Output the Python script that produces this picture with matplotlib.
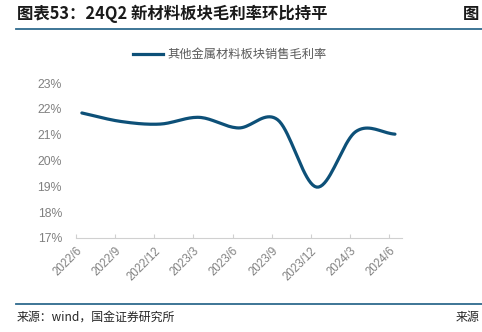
import numpy as np
import matplotlib
matplotlib.use("Agg")
import matplotlib.pyplot as plt
from matplotlib.lines import Line2D

plt.rcParams['font.family'] = ['Noto Sans CJK SC', 'DejaVu Sans']

# data
quarters = ["2022/6", "2022/9", "2022/12", "2023/3", "2023/6",
            "2023/9", "2023/12", "2024/3", "2024/6"]
margin = [21.84, 21.51, 21.41, 21.67, 21.26, 21.58, 18.97, 21.12, 21.02]
yticks = [17, 18, 19, 20, 21, 22, 23]

title = "图表53：24Q2 新材料板块毛利率环比持平"
series_name = "其他金属材料板块销售毛利率"
source = "来源：wind，国金证券研究所"

LINE = "#0d5078"
RULE = "#2e6a8e"
GREY = "#808080"


def _smooth(xs, ys, n=20):
    # catmull-rom through the points, to get the rounded excel-like line
    xs = np.asarray(xs, float)
    ys = np.asarray(ys, float)
    px = np.concatenate([[2 * xs[0] - xs[1]], xs, [2 * xs[-1] - xs[-2]]])
    py = np.concatenate([[2 * ys[0] - ys[1]], ys, [2 * ys[-1] - ys[-2]]])
    out_x, out_y = [], []
    t = np.linspace(0, 1, n, endpoint=False)
    for i in range(1, len(px) - 2):
        for p, out in ((px, out_x), (py, out_y)):
            p0, p1, p2, p3 = p[i - 1], p[i], p[i + 1], p[i + 2]
            out.extend(0.5 * (2 * p1 + (-p0 + p2) * t
                              + (2 * p0 - 5 * p1 + 4 * p2 - p3) * t ** 2
                              + (-p0 + 3 * p1 - 3 * p2 + p3) * t ** 3))
    out_x.append(xs[-1])
    out_y.append(ys[-1])
    return np.array(out_x), np.array(out_y)


fig = plt.figure(figsize=(4.82, 3.32), dpi=100)

W, H = 482, 332
ax = fig.add_axes([76 / W, (H - 238) / H, (402 - 76) / W, (238 - 83) / H])

x = np.arange(len(quarters)) + 0.15
sx, sy = _smooth(x, margin)
ax.plot(sx, sy, color=LINE, linewidth=2.3, solid_capstyle="round")

num_font = ["Liberation Sans", "DejaVu Sans"]
ax.set_xlim(0, len(quarters) - 1 + 0.33)
ax.set_ylim(17, 23)
ax.set_yticks(yticks)
ax.set_yticklabels([f"{v}%" for v in yticks], color=GREY, fontsize=8.8, family=num_font)
ax.set_xticks(np.arange(len(quarters)))
ax.set_xticklabels(quarters, rotation=45, ha="right", rotation_mode="anchor",
                   color=GREY, fontsize=8.3, family=num_font)
ax.tick_params(axis="y", length=0, pad=10)
ax.tick_params(axis="x", length=3, color="#d0d0d0", direction="in", pad=5)

for s in ("top", "right", "left"):
    ax.spines[s].set_visible(False)
ax.spines["bottom"].set_color("#d0d0d0")
ax.spines["bottom"].set_linewidth(0.8)

# legend
fig.add_artist(Line2D([133 / W, 163 / W], [(H - 54) / H] * 2, color=LINE, linewidth=2.3))
fig.text(167 / W, (H - 54) / H, series_name, fontsize=8.8, color="#595959", va="center")

# title and rules
fig.text(17 / W, (H - 14) / H, title, fontsize=11.8, fontweight="bold",
         color="#1a1a1a", va="center")
fig.text(479 / W, (H - 14) / H, "图", fontsize=11.8, fontweight="bold",
         color="#1a1a1a", va="center", ha="right")
fig.add_artist(Line2D([16 / W, 1], [(H - 29) / H] * 2, color=RULE, linewidth=1.3))
fig.add_artist(Line2D([16 / W, 1], [(H - 304) / H] * 2, color=RULE, linewidth=1.3))
fig.text(17 / W, (H - 317) / H, source, fontsize=8.6, color="#262626", va="center")
fig.text(479 / W, (H - 317) / H, "来源", fontsize=8.6, color="#262626", va="center",
         ha="right")

fig.savefig("out.png", dpi=100)
